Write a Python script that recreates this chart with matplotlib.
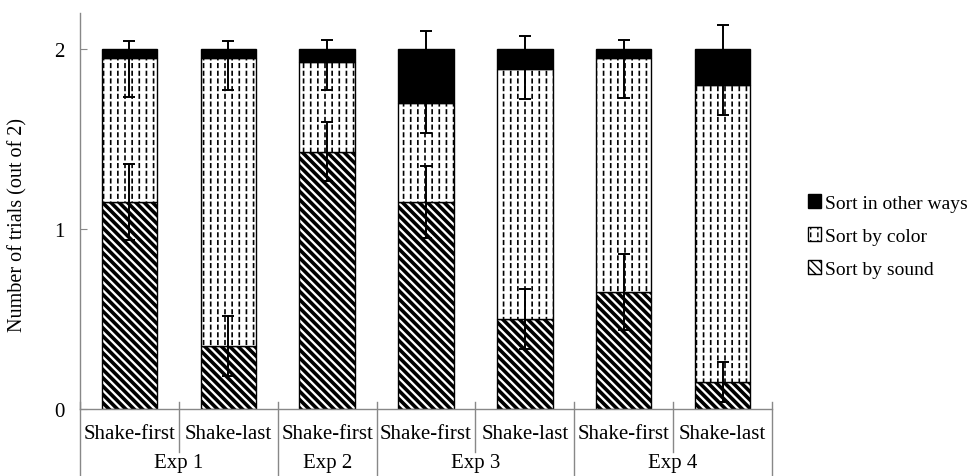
import numpy as np
import matplotlib
matplotlib.use('Agg')
import matplotlib.pyplot as plt
import matplotlib.hatch as mhatch
from matplotlib.path import Path

# ---------------- data ----------------
categories = ['Shake-first', 'Shake-last', 'Shake-first', 'Shake-first',
              'Shake-last', 'Shake-first', 'Shake-last']
groups = ['Exp 1', 'Exp 2', 'Exp 3', 'Exp 4']
group_sizes = [2, 1, 2, 2]

sound = [1.15, 0.35, 1.43, 1.15, 0.50, 0.65, 0.15]
color = [0.80, 1.60, 0.50, 0.55, 1.39, 1.30, 1.65]
other = [0.05, 0.05, 0.07, 0.30, 0.11, 0.05, 0.20]

sound_err = [0.21, 0.165, 0.165, 0.20, 0.167, 0.21, 0.11]
color_err = [0.215, 0.176, 0.16, 0.166, 0.166, 0.22, 0.166]
other_err = [0.046, 0.046, 0.05, 0.10, 0.07, 0.05, 0.135]

yticks = [0, 1, 2]
ylabel = 'Number of trials (out of 2)'
labels = ['Sort by sound', 'Sort by color', 'Sort in other ways']


# ------------- dashed vertical hatch (replaces '|') -------------
class DashedVerticalHatch(mhatch.HatchPatternBase):
    def __init__(self, hatch, density):
        n = hatch.count('|')
        self.ncols = 14 * n // 2 if n else 0
        self.nrows = 13 * n // 2 if n else 0
        self.num_vertices = self.ncols * self.nrows * 2

    def set_vertices_and_codes(self, vertices, codes):
        xs = (np.arange(self.ncols) + 0.5) / self.ncols
        ys = np.arange(self.nrows) / self.nrows
        X, Y = np.meshgrid(xs, ys)
        X = X.ravel()
        Y = Y.ravel()
        h = 0.45 / self.nrows
        off = 0.25 / self.nrows
        vertices[0::2, 0] = X
        vertices[0::2, 1] = Y + off
        vertices[1::2, 0] = X
        vertices[1::2, 1] = Y + off + h
        codes[0::2] = Path.MOVETO
        codes[1::2] = Path.LINETO


mhatch._hatch_types = [DashedVerticalHatch if t is mhatch.VerticalHatch else t
                       for t in mhatch._hatch_types]

plt.rcParams['font.family'] = ['Liberation Serif', 'DejaVu Serif']

fig = plt.figure(figsize=(9.7, 4.77), dpi=100)
ax = fig.add_axes([80 / 970, 1 - 410 / 477, (772 - 80) / 970, (410 - 14) / 477])

x = np.arange(len(categories))
w = 0.56
s = np.array(sound)
c = np.array(color)
o = np.array(other)

with plt.rc_context({'hatch.linewidth': 2.6}):
    b_sound = ax.bar(x, s, w, color='white', edgecolor='black', linewidth=1.0,
                     hatch='\\\\\\\\', label=labels[0], zorder=2)
with plt.rc_context({'hatch.linewidth': 1.2}):
    b_color = ax.bar(x, c, w, bottom=s, color='white', edgecolor='black',
                     linewidth=1.0, hatch='||', label=labels[1], zorder=2)
b_other = ax.bar(x, o, w, bottom=s + c, color='black', edgecolor='black',
                 linewidth=1.0, label=labels[2], zorder=2)

for p in b_sound:
    if hasattr(p, 'set_hatch_linewidth'):
        p.set_hatch_linewidth(2.6)
for p in b_color:
    if hasattr(p, 'set_hatch_linewidth'):
        p.set_hatch_linewidth(1.2)

# error bars
def draw_err(xs, lo, hi, caps):
    ax.vlines(xs, lo, hi, colors='black', linewidth=1.4, zorder=5)
    ax.plot(np.tile(xs, len(caps)), np.concatenate(caps), ls='none',
            marker='_', ms=8, mew=1.4, color='black', zorder=5)

top_s = s
top_c = s + c
top_o = s + c + o
se = np.array(sound_err)
ce = np.array(color_err)
oe = np.array(other_err)
draw_err(x, top_s - se, top_s + se, [top_s - se, top_s + se])
draw_err(x, top_c - ce, top_c, [top_c - ce])
draw_err(x, top_o, top_o + oe, [top_o + oe])

ax.set_xlim(-0.5, len(categories) - 0.5)
ax.set_ylim(0, 2.2)
ax.set_yticks(yticks)
ax.set_yticklabels([str(v) for v in yticks])
ax.set_xticks([])
ax.tick_params(axis='y', direction='in', length=5, color='#888888',
               labelsize=15, pad=11)
for sp in ['top', 'right']:
    ax.spines[sp].set_visible(False)
for sp in ['left', 'bottom']:
    ax.spines[sp].set_color('#888888')
    ax.spines[sp].set_linewidth(1.0)

ax.set_ylabel(ylabel, fontsize=14.5)
ax.yaxis.set_label_coords((18 - 80) / 692, (410 - 225) / 396)
ax.yaxis.label.set_va('center')

# two-level category axis
trans = ax.get_xaxis_transform()
hpx = 396.0
above = 7 / hpx
for i, lab in enumerate(categories):
    ax.text(x[i], -(435 - 410) / hpx, lab, transform=trans, ha='center',
            va='center', fontsize=15)
bounds = np.cumsum([0] + group_sizes) - 0.5
start = 0
for g, n in zip(groups, group_sizes):
    ax.text(start + (n - 1) / 2, -(464 - 410) / hpx, g, transform=trans,
            ha='center', va='center', fontsize=15)
    start += n
for b in np.arange(-0.5, len(categories), 1.0):
    if np.any(np.isclose(bounds, b)):
        y0 = -(477 - 410) / hpx - 0.01
    else:
        y0 = -(453 - 410) / hpx
    ax.plot([b, b], [above, y0], transform=trans, color='#888888',
            linewidth=1.0, clip_on=False)

handles = [b_other, b_color, b_sound]
leg = fig.legend(handles, [labels[2], labels[1], labels[0]],
                 loc='center left', bbox_to_anchor=(802 / 970, 1 - 237 / 477),
                 frameon=False, fontsize=14, handlelength=0.7,
                 handleheight=0.7, handletextpad=0.2, labelspacing=0.8,
                 borderaxespad=0, borderpad=0.3)

fig.savefig('out.png', dpi=100)
